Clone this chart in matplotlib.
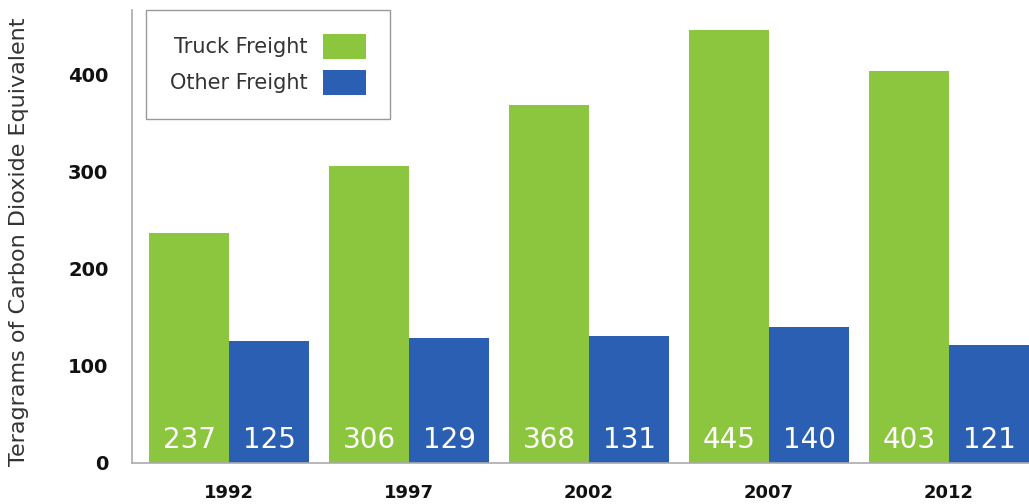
import numpy as np
import matplotlib
matplotlib.use("Agg")
import matplotlib.pyplot as plt
from matplotlib.patches import Patch

# data
years = ["1992", "1997", "2002", "2007", "2012"]
truck = [237, 306, 368, 445, 403]
other = [125, 129, 131, 140, 121]
yticks = [0, 100, 200, 300, 400]

green = "#8CC63F"
blue = "#2B5FB4"

plt.rcParams['font.family'] = ['DejaVu Sans']

fig = plt.figure(figsize=(10.29, 5.04), dpi=100)
ax = fig.add_axes([132/1029, 1 - 463/504, 897/1029, 453/504])

x = np.arange(len(years))
w = 80/180
ax.bar(x - w/2, truck, width=w, color=green, edgecolor='none')
ax.bar(x + w/2, other, width=w, color=blue, edgecolor='none')

# value labels near the bottom of each bar
for i in range(len(years)):
    ax.text(x[i] - w/2, 24, str(truck[i]), ha='center', va='center',
            color='white', fontsize=20)
    ax.text(x[i] + w/2, 24, str(other[i]), ha='center', va='center',
            color='white', fontsize=20)

ax.set_xlim(-0.539, 4.444)
ax.set_ylim(0, 466)
ax.set_xticks(x)
ax.set_xticklabels(years, fontsize=13, fontweight='bold', color='#111111')
ax.set_yticks(yticks)
ax.set_yticklabels([str(v) for v in yticks], fontsize=14, fontweight='bold', color='#111111')
ax.tick_params(axis='both', length=0)
ax.tick_params(axis='x', pad=15)
ax.tick_params(axis='y', pad=17)

for s in ['top', 'right']:
    ax.spines[s].set_visible(False)
ax.spines['left'].set_color('#AAAAAA')
ax.spines['bottom'].set_color('#AAAAAA')
ax.spines['left'].set_linewidth(1.2)
ax.spines['bottom'].set_linewidth(1.2)

fig.text(19/1029, 1 - 242/504, "Teragrams of Carbon Dioxide Equivalent",
         rotation=90, ha='center', va='center', fontsize=16, color='#333333')

handles = [Patch(facecolor=green, edgecolor='none'),
           Patch(facecolor=blue, edgecolor='none')]
leg = ax.legend(handles, ["Truck Freight", "Other Freight"],
                loc='upper left', bbox_to_anchor=(14/897, 1.0),
                borderaxespad=0, markerfirst=False, fontsize=15,
                handlelength=2.05, handleheight=1.45, labelspacing=0.55,
                borderpad=1.15, handletextpad=0.75, fancybox=False,
                framealpha=1, labelcolor='#333333')
leg.get_frame().set_edgecolor('#999999')
leg.get_frame().set_linewidth(1.0)

fig.savefig("out.png", dpi=100)
